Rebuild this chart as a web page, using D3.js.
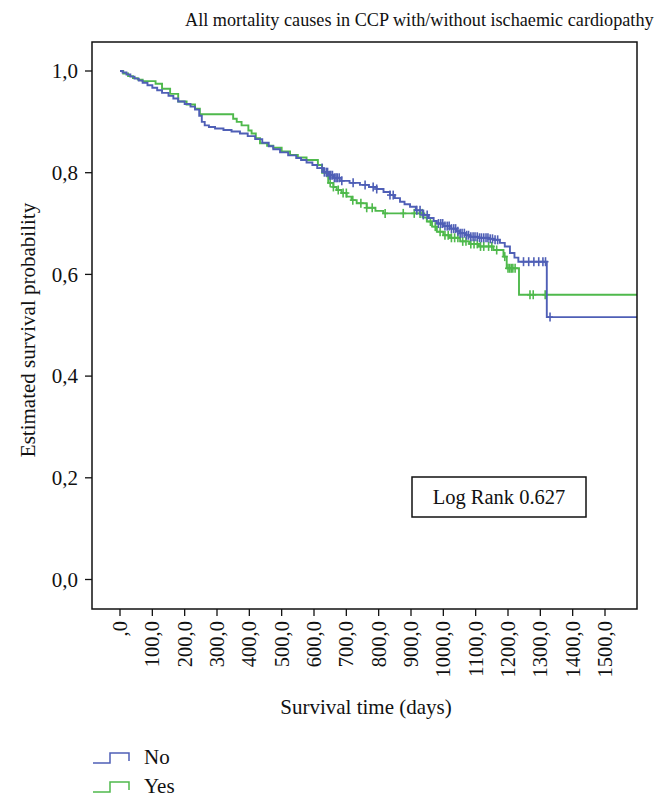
<!DOCTYPE html>
<html><head><meta charset="utf-8">
<script src="https://cdn.jsdelivr.net/npm/d3@7"></script>
<style>body{margin:0;background:#fff}svg{display:block}text{font-family:"Liberation Serif","DejaVu Serif",serif;fill:#111}</style>
</head><body><svg id="c" width="665" height="806"></svg>
<script>
const title = "All mortality causes in CCP with/without ischaemic cardiopathy";
const yTicks = [0, 0.2, 0.4, 0.6, 0.8, 1.0];
const yTickLabels = ["0,0", "0,2", "0,4", "0,6", "0,8", "1,0"];
const xTicks = [0,100,200,300,400,500,600,700,800,900,1000,1100,1200,1300,1400,1500];
const xTickLabels = [",0","100,0","200,0","300,0","400,0","500,0","600,0","700,0","800,0","900,0","1000,0","1100,0","1200,0","1300,0","1400,0","1500,0"];
const groups = ["No", "Yes"];
const colors = ["#4f5fb6", "#4fb94c"];
// step times (days) and survival after each step
const noTimes = [8,20,32,45,58,70,85,100,115,130,150,165,180,200,218,232,245,253,262,275,294,320,345,371,395,418,440,460,474,495,520,545,560,577,595,610,629,645,660,680,710,742,770,794,815,835,850,866,880,897,915,938,955,970,980,1000,1020,1040,1052,1070,1083,1110,1140,1155,1175,1190,1206,1220,1232,1320];
const noSurv = [0.997,0.993,0.989,0.985,0.981,0.977,0.972,0.967,0.962,0.957,0.951,0.946,0.940,0.935,0.930,0.924,0.912,0.900,0.893,0.890,0.887,0.884,0.881,0.877,0.872,0.866,0.859,0.852,0.846,0.840,0.834,0.829,0.825,0.820,0.815,0.809,0.801,0.795,0.790,0.784,0.780,0.776,0.772,0.768,0.762,0.756,0.750,0.743,0.738,0.733,0.726,0.717,0.711,0.705,0.700,0.695,0.690,0.685,0.681,0.677,0.674,0.672,0.670,0.668,0.662,0.655,0.642,0.633,0.625,0.516];
const noCensor = [625,632,638,642,648,652,657,663,668,672,678,686,721,758,783,794,835,845,918,928,938,950,985,992,998,1005,1012,1018,1025,1032,1038,1045,1052,1058,1065,1072,1078,1085,1092,1098,1105,1112,1118,1125,1132,1138,1145,1152,1160,1168,1248,1264,1280,1295,1308,1316,1330];
const yesTimes = [10,25,40,55,70,110,130,155,180,206,232,247,350,361,376,397,407,420,433,455,474,500,526,550,577,612,625,644,660,670,685,701,716,732,763,790,814,938,949,965,980,1000,1020,1052,1080,1110,1155,1186,1196,1234];
const yesSurv = [0.995,0.990,0.986,0.983,0.980,0.975,0.965,0.955,0.940,0.934,0.926,0.915,0.906,0.900,0.893,0.883,0.877,0.868,0.858,0.853,0.849,0.842,0.835,0.830,0.825,0.815,0.800,0.780,0.772,0.766,0.760,0.753,0.746,0.740,0.731,0.725,0.720,0.712,0.704,0.694,0.684,0.677,0.672,0.665,0.660,0.655,0.648,0.635,0.612,0.560];
const yesCensor = [640,650,660,675,690,700,720,745,763,780,820,876,910,928,935,960,975,990,1005,1015,1025,1035,1045,1060,1070,1085,1095,1105,1115,1125,1140,1150,1165,1190,1200,1205,1210,1215,1222,1268,1278,1315];
const logRank = "Log Rank 0.627";
const xTitle = "Survival time (days)";
const yTitle = "Estimated survival probability";

const svg = d3.select("#c");
const frame = {l:92, t:42, r:637, b:609};
const x = d3.scaleLinear().domain([0,1500]).range([120,605]);
const y = d3.scaleLinear().domain([0,1]).range([579.5,71]);

svg.append("text").attr("x",185).attr("y",26).attr("font-size","18.2px").text(title);

function survAt(times, surv, t){ let s=1; for(let i=0;i<times.length;i++){ if(times[i]<=t) s=surv[i]; } return s; }
const tEnd = x.invert(frame.r);
const series = [[noTimes,noSurv,noCensor],[yesTimes,yesSurv,yesCensor]];
const stepLine = d3.line().x(d=>x(d[0])).y(d=>y(d[1])).curve(d3.curveStepAfter);
[1,0].forEach(gi=>{
  const [ts,ss,cs] = series[gi];
  const pts = [[0,1]].concat(ts.map((t,i)=>[t,ss[i]])).concat([[tEnd, ss[ss.length-1]]]);
  svg.append("path").attr("d",stepLine(pts)).attr("fill","none").attr("stroke",colors[gi]).attr("stroke-width",1.9);
  const g = svg.append("g").attr("stroke",colors[gi]).attr("stroke-width",1.6);
  cs.forEach(c=>{
    const cx = x(c), cy = y(survAt(ts,ss,c));
    g.append("line").attr("x1",cx).attr("x2",cx).attr("y1",cy-4.5).attr("y2",cy+4.5);
    g.append("line").attr("x1",cx-3).attr("x2",cx+3).attr("y1",cy).attr("y2",cy);
  });
});

svg.append("rect").attr("x",frame.l).attr("y",frame.t).attr("width",frame.r-frame.l).attr("height",frame.b-frame.t)
  .attr("fill","none").attr("stroke","#111").attr("stroke-width",1.5);

const ya = svg.append("g");
yTicks.forEach((v,i)=>{
  ya.append("line").attr("x1",frame.l-7).attr("x2",frame.l).attr("y1",y(v)).attr("y2",y(v)).attr("stroke","#111").attr("stroke-width",1.3);
  ya.append("text").attr("x",78).attr("y",y(v)).attr("dy","0.35em").attr("text-anchor","end").attr("font-size","21px").text(yTickLabels[i]);
});
svg.append("text").attr("transform","translate(35,330) rotate(-90)").attr("text-anchor","middle").attr("font-size","21px").text(yTitle);

const xa = svg.append("g");
xTicks.forEach((v,i)=>{
  xa.append("line").attr("x1",x(v)).attr("x2",x(v)).attr("y1",frame.b).attr("y2",frame.b+7).attr("stroke","#111").attr("stroke-width",1.3);
  xa.append("text").attr("transform",`translate(${x(v)+7},621) rotate(-90)`).attr("text-anchor","end").attr("font-size","20.5px").text(xTickLabels[i]);
});
svg.append("text").attr("x",366).attr("y",714).attr("text-anchor","middle").attr("font-size","21px").text(xTitle);

svg.append("rect").attr("x",412).attr("y",477).attr("width",174).attr("height",40).attr("fill","#fff").attr("stroke","#111").attr("stroke-width",1.5);
svg.append("text").attr("x",499).attr("y",504).attr("text-anchor","middle").attr("font-size","20.5px").text(logRank);

groups.forEach((g,i)=>{
  const yb = 763 + i*29;
  svg.append("path").attr("d",`M93,${yb} H110 V${yb-10} H129 V${yb-2}`).attr("fill","none").attr("stroke",colors[i]).attr("stroke-width",1.5);
  svg.append("text").attr("x",144).attr("y",yb+1).attr("font-size","21px").text(g);
});
</script></body></html>
